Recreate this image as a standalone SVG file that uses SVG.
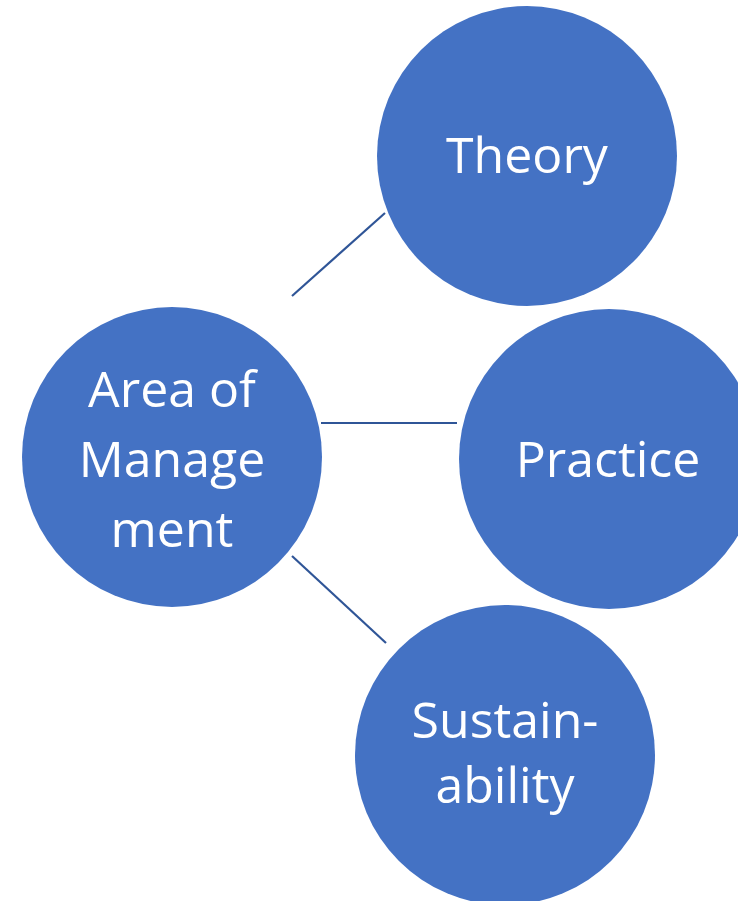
<svg xmlns="http://www.w3.org/2000/svg" width="738" height="901" viewBox="0 0 738 901">
<style>
.node{fill:#4472C4;}
.lbl{fill:#FFFFFF;font-family:"Open Sans","Noto Sans","Liberation Sans",sans-serif;font-size:50px;text-anchor:middle;}
.edge{stroke:#2F5597;stroke-width:2.2;fill:none;}
</style>
<rect width="738" height="901" fill="#FFFFFF"/>
<g id="connectors">
<line class="edge" x1="292" y1="296" x2="385" y2="213"/>
<line class="edge" x1="321" y1="423" x2="457" y2="423"/>
<line class="edge" x1="292" y1="556" x2="386" y2="643"/>
</g>
<g id="theory">
<circle class="node" cx="527" cy="156" r="150"/>
<text class="lbl" x="527" y="173">Theory</text>
</g>
<g id="practice">
<circle class="node" cx="609" cy="459" r="150"/>
<text class="lbl" x="608" y="477">Practice</text>
</g>
<g id="area">
<circle class="node" cx="172" cy="457" r="150"/>
<text class="lbl" x="172" y="407">Area of</text>
<text class="lbl" x="172" y="477">Manage</text>
<text class="lbl" x="172" y="547">ment</text>
</g>
<g id="sustainability">
<circle class="node" cx="505" cy="755" r="150"/>
<text class="lbl" x="505" y="738">Sustain-</text>
<text class="lbl" x="505" y="803">ability</text>
</g>
</svg>
